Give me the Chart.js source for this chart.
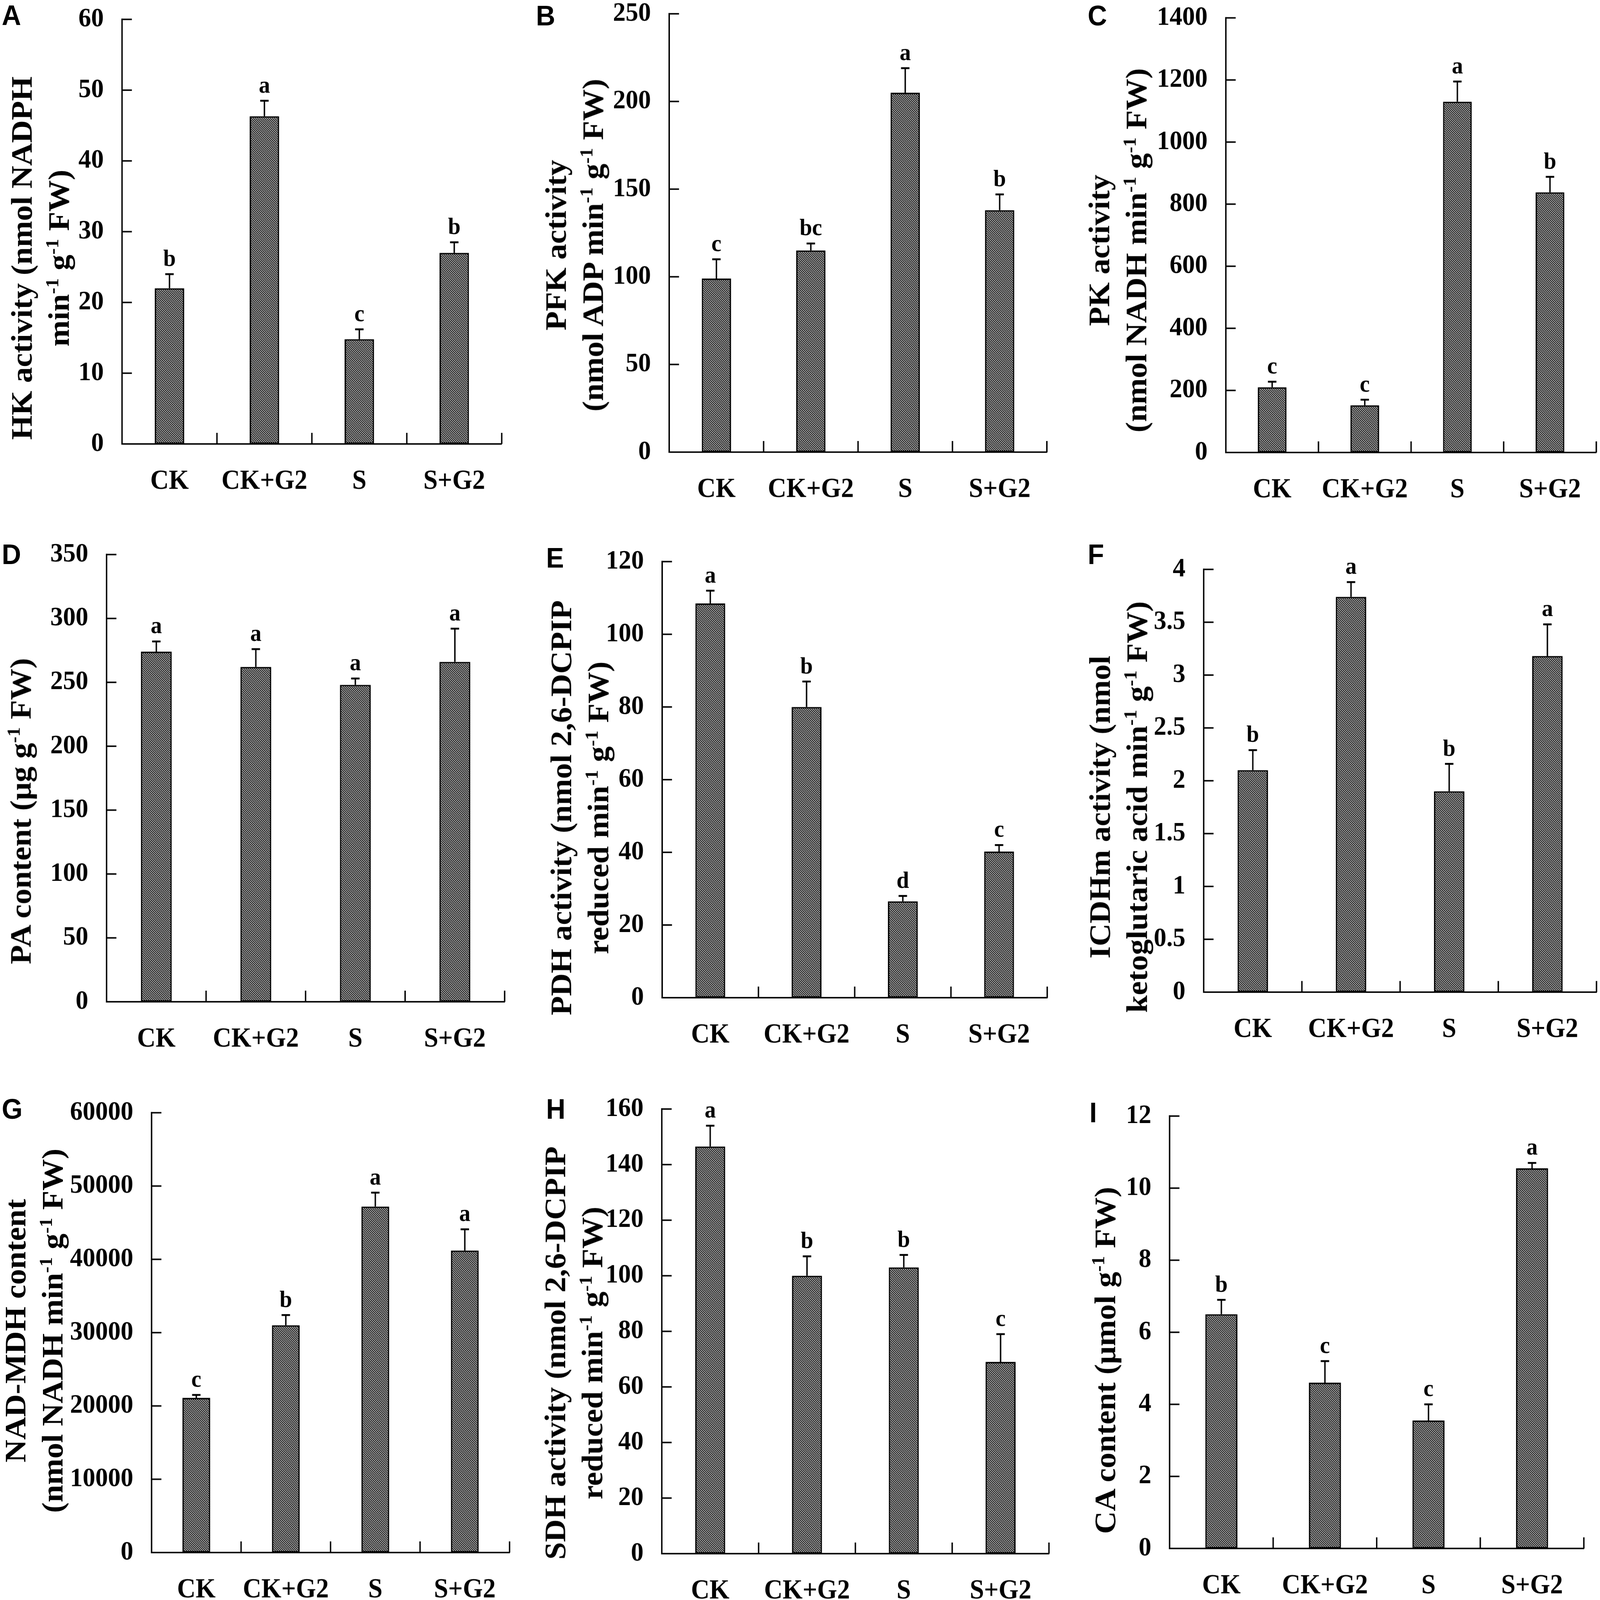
<!DOCTYPE html>
<html lang="en">
<head>
  <meta charset="UTF-8">
  <title>Enzyme activities and metabolite contents</title>
  <script src="https://cdn.jsdelivr.net/npm/chart.js@4.4.1/dist/chart.umd.min.js"></script>
  <style>
    html, body { margin: 0; background: #fff; overflow: hidden; }
    #page { position: relative; width: 4550px; height: 4314px; overflow: hidden; background: #fff; transform-origin: 0 0; }
    .panel-canvas { position: absolute; }
    .panel-letter {
      position: absolute;
      font-family: 'Liberation Sans', Arial, sans-serif;
      font-weight: bold;
      font-size: 76px;
      line-height: 1;
      color: #000;
    }
    .y-title {
      position: absolute;
      font-family: 'Liberation Serif', 'Times New Roman', serif;
      font-weight: bold;
      font-size: 85px;
      line-height: 106px;
      white-space: nowrap;
      text-align: center;
      color: #000;
      transform: translate(-50%, -50%) rotate(-90deg);
    }
    .y-title sup { font-size: 0.6em; vertical-align: 0.6em; line-height: 0; }
  </style>
</head>
<body>
  <div id="page"></div>

  <script>
    // treatments, same for every panel
    const categories = ['CK', 'CK+G2', 'S', 'S+G2'];

    // A - HK activity
    const hkMean = [22.0, 46.3, 14.8, 27.0];
    const hkErr = [2.0, 2.2, 1.4, 1.5];
    const hkSig = ['b', 'a', 'c', 'b'];
    const hkTicks = [0, 10, 20, 30, 40, 50, 60];

    // B - PFK activity
    const pfkMean = [99, 115, 205, 138];
    const pfkErr = [11, 4, 14, 9];
    const pfkSig = ['c', 'bc', 'a', 'b'];
    const pfkTicks = [0, 50, 100, 150, 200, 250];

    // C - PK activity
    const pkMean = [210, 152, 1130, 838];
    const pkErr = [18, 18, 65, 50];
    const pkSig = ['c', 'c', 'a', 'b'];
    const pkTicks = [0, 200, 400, 600, 800, 1000, 1200, 1400];

    // D - PA content
    const paMean = [274, 262, 248, 266];
    const paErr = [8, 14, 5, 26];
    const paSig = ['a', 'a', 'a', 'a'];
    const paTicks = [0, 50, 100, 150, 200, 250, 300, 350];

    // E - PDH activity
    const pdhMean = [108.5, 80, 26.5, 40.2];
    const pdhErr = [3.5, 7, 1.5, 1.8];
    const pdhSig = ['a', 'b', 'd', 'c'];
    const pdhTicks = [0, 20, 40, 60, 80, 100, 120];

    // F - ICDHm activity
    const icdhMean = [2.1, 3.74, 1.9, 3.18];
    const icdhErr = [0.19, 0.14, 0.26, 0.3];
    const icdhSig = ['b', 'a', 'b', 'a'];
    const icdhTicks = [0, 0.5, 1, 1.5, 2, 2.5, 3, 3.5, 4];

    // G - NAD-MDH content
    const mdhMean = [21100, 31000, 47200, 41200];
    const mdhErr = [400, 1400, 1900, 2900];
    const mdhSig = ['c', 'b', 'a', 'a'];
    const mdhTicks = [0, 10000, 20000, 30000, 40000, 50000, 60000];

    // H - SDH activity
    const sdhMean = [146.5, 100, 103, 69];
    const sdhErr = [7.5, 7, 4.5, 10];
    const sdhSig = ['a', 'b', 'b', 'c'];
    const sdhTicks = [0, 20, 40, 60, 80, 100, 120, 140, 160];

    // I - CA content
    const caMean = [6.5, 4.6, 3.55, 10.55];
    const caErr = [0.4, 0.6, 0.45, 0.15];
    const caSig = ['b', 'c', 'c', 'a'];
    const caTicks = [0, 2, 4, 6, 8, 10, 12];

    // layout of each panel on the page (plot box in page pixels)
    const panels = [
      { letter: 'A', mean: hkMean, err: hkErr, sig: hkSig, ticks: hkTicks,
        title: ['HK activity (nmol NADPH', 'min<sup>-1</sup> g<sup>-1</sup> FW)'],
        box: { l: 347, r: 1427, t: 47, b: 1197 }, tc: [114, 696], lt: [5, 13] },
      { letter: 'B', mean: pfkMean, err: pfkErr, sig: pfkSig, ticks: pfkTicks,
        title: ['PFK activity', '(nmol ADP min<sup>-1</sup> g<sup>-1</sup> FW)'],
        box: { l: 1903, r: 2978, t: 32, b: 1219 }, tc: [1633, 661], lt: [1524, 14] },
      { letter: 'C', mean: pkMean, err: pkErr, sig: pkSig, ticks: pkTicks,
        title: ['PK activity', '(nmol NADH min<sup>-1</sup> g<sup>-1</sup> FW)'],
        box: { l: 3486, r: 4543, t: 43, b: 1220 }, tc: [3178, 675], lt: [3093, 14] },
      { letter: 'D', mean: paMean, err: paErr, sig: paSig, ticks: paTicks,
        title: ['PA content (μg g<sup>-1</sup> FW)'],
        box: { l: 303, r: 1435, t: 1490, b: 2701 }, tc: [58, 2187], lt: [5, 1467] },
      { letter: 'E', mean: pdhMean, err: pdhErr, sig: pdhSig, ticks: pdhTicks,
        title: ['PDH activity (nmol 2,6-DCPIP', 'reduced min<sup>-1</sup> g<sup>-1</sup> FW)'],
        box: { l: 1883, r: 2978, t: 1509, b: 2690 }, tc: [1648, 2178], lt: [1553, 1476] },
      { letter: 'F', mean: icdhMean, err: icdhErr, sig: icdhSig, ticks: icdhTicks,
        title: ['ICDHm activity (nmol', 'ketoglutaric acid min<sup>-1</sup> g<sup>-1</sup> FW)'],
        box: { l: 3423, r: 4540, t: 1530, b: 2675 }, tc: [3180, 2176], lt: [3093, 1467] },
      { letter: 'G', mean: mdhMean, err: mdhErr, sig: mdhSig, ticks: mdhTicks,
        title: ['NAD-MDH content', '(nmol NADH min<sup>-1</sup> g<sup>-1</sup> FW)'],
        box: { l: 431, r: 1457, t: 2995, b: 4186 }, tc: [96, 3588], lt: [5, 2962] },
      { letter: 'H', mean: sdhMean, err: sdhErr, sig: sdhSig, ticks: sdhTicks,
        title: ['SDH activity (nmol 2,6-DCPIP', 'reduced min<sup>-1</sup> g<sup>-1</sup> FW)'],
        box: { l: 1882, r: 2983, t: 2985, b: 4189 }, tc: [1631, 3648], lt: [1553, 2962] },
      { letter: 'I', mean: caMean, err: caErr, sig: caSig, ticks: caTicks,
        title: ['CA content (μmol g<sup>-1</sup> FW)'],
        box: { l: 3326, r: 4504, t: 3004, b: 4175 }, tc: [3142, 3668], lt: [3098, 2972] }
    ];

    const AXIS_W = 300;   // room for y tick labels
    const AXIS_H = 170;   // room for x labels
    const PAD_T = 90;
    const PAD_R = 12;

    Chart.defaults.font.family = "'Liberation Serif', 'Times New Roman', serif";
    Chart.defaults.font.weight = 'bold';
    Chart.defaults.color = '#000';

    // fine diagonal hatch used for every bar
    function makeHatch() {
      const s = 6;
      const c = document.createElement('canvas');
      c.width = s; c.height = s;
      const g = c.getContext('2d');
      g.fillStyle = '#fff';
      g.fillRect(0, 0, s, s);
      g.strokeStyle = '#111';
      g.lineWidth = 2.8;
      g.beginPath();
      g.moveTo(-1, -1); g.lineTo(s + 1, s + 1);
      g.moveTo(-1, s - 1); g.lineTo(1, s + 1);
      g.moveTo(s - 1, -1); g.lineTo(s + 1, 1);
      g.stroke();
      return g.createPattern(c, 'repeat');
    }

    // inward ticks, error bars and significance letters
    const decorPlugin = {
      id: 'decor',
      afterDraw(chart, args, opts) {
        const { ctx, chartArea: a, scales: { x, y } } = chart;
        ctx.save();
        ctx.strokeStyle = '#000';
        ctx.lineWidth = 4;

        // y ticks pointing into the plot
        y.ticks.forEach(t => {
          const py = y.getPixelForValue(t.value);
          ctx.beginPath();
          ctx.moveTo(a.left, py);
          ctx.lineTo(a.left + 28, py);
          ctx.stroke();
        });

        // category boundary ticks pointing up
        for (let i = 0; i < categories.length; i++) {
          const px = x.getPixelForValue(i + 0.5);
          ctx.beginPath();
          ctx.moveTo(px, a.bottom);
          ctx.lineTo(px, a.bottom - 30);
          ctx.stroke();
        }

        const meta = chart.getDatasetMeta(0);
        ctx.font = "bold 64px 'Liberation Serif', 'Times New Roman', serif";
        ctx.fillStyle = '#000';
        ctx.textAlign = 'center';
        ctx.textBaseline = 'alphabetic';
        meta.data.forEach((bar, i) => {
          const top = y.getPixelForValue(opts.mean[i] + opts.err[i]);
          ctx.lineWidth = 4;
          ctx.beginPath();
          ctx.moveTo(bar.x, bar.y);
          ctx.lineTo(bar.x, top);
          ctx.stroke();
          ctx.lineWidth = 5;
          ctx.beginPath();
          ctx.moveTo(bar.x - 12, top);
          ctx.lineTo(bar.x + 12, top);
          ctx.stroke();
          ctx.fillText(opts.sig[i], bar.x, top - 22);
        });
        ctx.restore();
      }
    };

    const page = document.getElementById('page');
    const hatch = makeHatch();

    panels.forEach(p => {
      const w = p.box.r - p.box.l + AXIS_W + PAD_R;
      const h = p.box.b - p.box.t + PAD_T + AXIS_H;
      const cv = document.createElement('canvas');
      cv.className = 'panel-canvas';
      cv.width = w;
      cv.height = h;
      cv.style.left = (p.box.l - AXIS_W) + 'px';
      cv.style.top = (p.box.t - PAD_T) + 'px';
      cv.style.width = w + 'px';
      cv.style.height = h + 'px';
      page.appendChild(cv);

      new Chart(cv, {
        type: 'bar',
        data: {
          labels: categories,
          datasets: [{
            data: p.mean,
            backgroundColor: hatch,
            borderColor: '#000',
            borderWidth: 4,
            borderSkipped: false,
            barPercentage: 0.31,
            categoryPercentage: 1
          }]
        },
        options: {
          responsive: false,
          animation: false,
          events: [],
          layout: { padding: { top: PAD_T, right: PAD_R, left: 0, bottom: 0 } },
          plugins: {
            legend: { display: false },
            tooltip: { enabled: false },
            decor: { mean: p.mean, err: p.err, sig: p.sig }
          },
          scales: {
            x: {
              grid: { display: false, drawTicks: false },
              border: { display: true, color: '#000', width: 4 },
              ticks: { color: '#000', font: { size: 73, weight: 'bold' }, padding: 58, maxRotation: 0, autoSkip: false },
              afterFit: s => { s.height = AXIS_H; }
            },
            y: {
              min: p.ticks[0],
              max: p.ticks[p.ticks.length - 1],
              afterBuildTicks: s => { s.ticks = p.ticks.map(v => ({ value: v })); },
              grid: { display: false, drawTicks: false },
              border: { display: true, color: '#000', width: 4 },
              ticks: { color: '#000', font: { size: 72, weight: 'bold' }, padding: 52, callback: v => String(v) },
              afterFit: s => { s.width = AXIS_W; }
            }
          }
        },
        plugins: [decorPlugin]
      });

      // y axis title, rotated, with superscripts
      const t = document.createElement('div');
      t.className = 'y-title';
      t.innerHTML = p.title.join('<br>');
      t.style.left = p.tc[0] + 'px';
      t.style.top = p.tc[1] + 'px';
      page.appendChild(t);

      // panel letter
      const L = document.createElement('div');
      L.className = 'panel-letter';
      L.textContent = p.letter;
      L.style.left = p.lt[0] + 'px';
      L.style.top = (p.lt[1] - 10) + 'px';
      page.appendChild(L);
    });

    // if the window is not the figure size, stretch the figure to fill it
    const sx = window.innerWidth / 4550;
    const sy = window.innerHeight / 4314;
    if (Math.abs(sx - 1) > 0.001 || Math.abs(sy - 1) > 0.001) {
      page.style.transform = 'scale(' + sx + ',' + sy + ')';
    }
  </script>
</body>
</html>
